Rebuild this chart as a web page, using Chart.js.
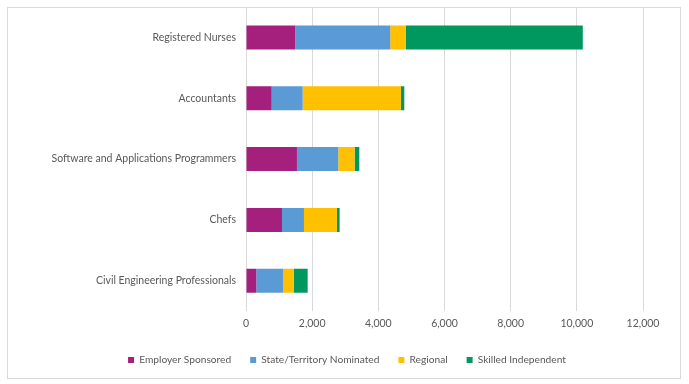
<!DOCTYPE html>
<html>
<head>
<meta charset="utf-8">
<script src="https://cdn.jsdelivr.net/npm/chart.js@4/dist/chart.umd.min.js"></script>
<style>
  html, body { margin: 0; padding: 0; background: #fff; }
  #frame { position: absolute; left: 7px; top: 7px; width: 672px; height: 370px; border: 1px solid #d9d9d9; }
  #wrap { position: absolute; left: 0; top: 0; width: 689px; height: 384px; }
</style>
</head>
<body>
<div id="frame"></div>
<div id="wrap"><canvas id="chart" width="689" height="384"></canvas></div>
<script>
// Data
const occupations = ['Registered Nurses', 'Accountants', 'Software and Applications Programmers', 'Chefs', 'Civil Engineering Professionals'];
const employerSponsored = [1490, 776, 1540, 1088, 312];
const stateNominated = [2870, 937, 1250, 664, 806];
const regional = [465, 2970, 493, 997, 323];
const skilledIndependent = [5355, 102, 142, 81, 423];
const xTicks = [0, 2000, 4000, 6000, 8000, 10000, 12000];

const textColor = '#595959';
const gridColor = '#d9d9d9';
Chart.defaults.font.family = 'Lato, "Liberation Sans", sans-serif';
Chart.defaults.font.size = 10.5;
Chart.defaults.color = textColor;

function makeSet(label, data, color) {
    return {
        label: label,
        data: data,
        backgroundColor: color,
        borderWidth: 0,
        barPercentage: 0.395,
        categoryPercentage: 1
    };
}

const ctx = document.getElementById('chart').getContext('2d');
const chart = new Chart(ctx, {
    type: 'bar',
    data: {
        labels: occupations,
        datasets: [
            makeSet('Employer Sponsored', employerSponsored, '#A5207D'),
            makeSet('State/Territory Nominated', stateNominated, '#5B9BD5'),
            makeSet('Regional', regional, '#FFC000'),
            makeSet('Skilled Independent', skilledIndependent, '#00985F')
        ]
    },
    options: {
        indexAxis: 'y',
        responsive: false,
        animation: false,
        layout: { padding: { top: 7, right: 46, bottom: 9, left: 51 } },
        scales: {
            x: {
                stacked: true,
                min: 0,
                max: 12000,
                afterBuildTicks: function(scale) {
                    scale.ticks = xTicks.map(function(v) { return { value: v }; });
                },
                ticks: {
                    padding: 6,
                    callback: function(v) { return v.toLocaleString('en-US'); }
                },
                grid: { color: gridColor, lineWidth: 1, drawTicks: false },
                border: { display: false }
            },
            y: {
                stacked: true,
                afterFit: function(scale) {
                    scale.width = 195;
                    scale.paddingTop = 0;
                    scale.paddingBottom = 0;
                },
                ticks: { padding: 10 },
                grid: { display: false, drawTicks: false },
                border: { display: false }
            }
        },
        plugins: {
            tooltip: { enabled: false },
            legend: {
                position: 'bottom',
                labels: {
                    boxWidth: 6,
                    boxHeight: 6,
                    padding: 19,
                    font: { size: 10.2 }
                }
            }
        }
    }
});
</script>
</body>
</html>
